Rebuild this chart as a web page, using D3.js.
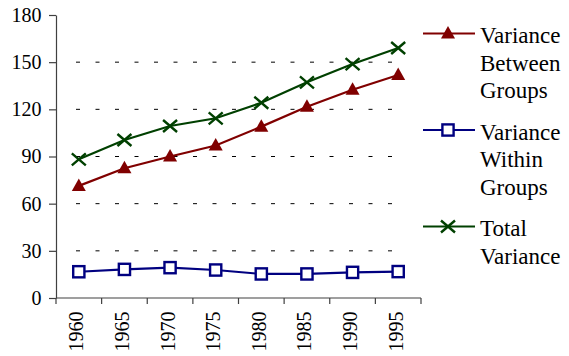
<!DOCTYPE html>
<html>
<head>
<meta charset="utf-8">
<script src="https://cdn.jsdelivr.net/npm/d3@7"></script>
<style>
  html, body { margin: 0; padding: 0; background: #fff; }
  svg { display: block; }
  text { font-family: "Liberation Serif", Tinos, "Times New Roman", Times, "Nimbus Roman", "DejaVu Serif", serif; fill: #000; }
</style>
</head>
<body>
<svg id="chart" width="569" height="356"></svg>
<script>
// Variance decomposition by year
const years = ["1960", "1965", "1970", "1975", "1980", "1985", "1990", "1995"];
const betweenGroups = [71.3, 82.5, 90.0, 97.0, 109.0, 121.7, 132.5, 141.8];
const withinGroups = [16.7, 18.2, 19.3, 17.8, 15.3, 15.3, 16.3, 16.8];
const totalVariance = [88.2, 100.5, 109.4, 114.3, 124.2, 137.2, 148.8, 159.0];
const yTicks = [0, 30, 60, 90, 120, 150, 180];
const seriesNames = [
  ["Variance", "Between", "Groups"],
  ["Variance", "Within", "Groups"],
  ["Total", "Variance"]
];

const series = [
  { lines: seriesNames[0], values: betweenGroups, color: "#800000", marker: "triangle" },
  { lines: seriesNames[1], values: withinGroups, color: "#000080", marker: "square" },
  { lines: seriesNames[2], values: totalVariance, color: "#004000", marker: "cross" }
];

const FONT = '"Liberation Serif", Tinos, "Times New Roman", Times, "Nimbus Roman", "DejaVu Serif", serif';
const svg = d3.select("#chart");
const plotLeft = 56, plotRight = 421, plotTop = 15, plotBottom = 298;

const x = d3.scaleBand().domain(years).range([plotLeft, plotRight]).padding(0);
const y = d3.scaleLinear().domain([0, 180]).range([plotBottom, plotTop]);
const cx = d => x(d) + x.bandwidth() / 2;

// Dashed horizontal gridlines
svg.append("g")
  .selectAll("line")
  .data(yTicks.filter(t => t > 0 && t < 180))
  .join("line")
  .attr("x1", 76).attr("x2", 395)
  .attr("y1", d => y(d)).attr("y2", d => y(d))
  .attr("stroke", "#000")
  .attr("stroke-width", 1)
  .attr("stroke-dasharray", "4 15.5");

// Y axis
const yAxis = svg.append("g")
  .attr("transform", `translate(${plotLeft},0)`)
  .call(d3.axisLeft(y).tickValues(yTicks).tickSize(7).tickPadding(7.5).tickSizeOuter(0))
  .attr("font-family", FONT);
yAxis.select(".domain").attr("stroke", "#404040").attr("stroke-width", 1.2);
yAxis.selectAll(".tick line").attr("stroke", "#404040").attr("stroke-width", 1.2);
yAxis.selectAll(".tick text")
  .style("font-family", FONT)
  .style("font-size", "20px")
  .attr("fill", "#000");

// X axis: tick marks on band boundaries, rotated year labels
const xAxis = svg.append("g").attr("transform", `translate(0,${plotBottom})`);
xAxis.append("line")
  .attr("x1", plotLeft).attr("x2", plotRight)
  .attr("stroke", "#404040").attr("stroke-width", 1.2);
const bounds = years.map(d => x(d)).concat([plotRight]);
xAxis.selectAll("line.tk")
  .data(bounds)
  .join("line")
  .attr("class", "tk")
  .attr("x1", d => d).attr("x2", d => d)
  .attr("y1", 0).attr("y2", 6)
  .attr("stroke", "#404040").attr("stroke-width", 1.2);
xAxis.selectAll("text")
  .data(years)
  .join("text")
  .attr("transform", d => `translate(${cx(d) + 4.5},13.5) rotate(-90)`)
  .attr("text-anchor", "end")
  .style("font-family", FONT)
  .style("font-size", "20px")
  .text(d => d);

// Marker shapes
function drawMarker(g, type, color) {
  if (type === "triangle") {
    g.append("path")
      .attr("d", "M0,-7.5 L7,5 L-7,5 Z")
      .attr("fill", color);
  } else if (type === "square") {
    g.append("rect")
      .attr("x", -5.6).attr("y", -5.6)
      .attr("width", 11.2).attr("height", 11.2)
      .attr("fill", "#fff")
      .attr("stroke", color).attr("stroke-width", 2.4);
  } else {
    g.append("path")
      .attr("d", "M-7,-6 L7,6 M-7,6 L7,-6")
      .attr("fill", "none")
      .attr("stroke", color).attr("stroke-width", 2.4);
  }
}

const line = d3.line().x((d, i) => cx(years[i])).y(d => y(d));

// Series lines and markers
series.forEach(s => {
  const g = svg.append("g");
  g.append("path")
    .attr("d", line(s.values))
    .attr("fill", "none")
    .attr("stroke", s.color)
    .attr("stroke-width", 2.2);
  s.values.forEach((v, i) => {
    const m = g.append("g").attr("transform", `translate(${cx(years[i])},${y(v)})`);
    drawMarker(m, s.marker, s.color);
  });
});

// Legend
const legendY = [33.5, 130, 226.5];
series.forEach((s, k) => {
  const g = svg.append("g").attr("transform", `translate(0,${legendY[k]})`);
  g.append("line")
    .attr("x1", 423).attr("x2", 475)
    .attr("stroke", s.color).attr("stroke-width", 2.2);
  const m = g.append("g").attr("transform", "translate(448,0)");
  drawMarker(m, s.marker, s.color);
  const t = g.append("text").attr("x", 480).attr("y", 9.5)
    .style("font-family", FONT)
    .style("font-size", "23px");
  s.lines.forEach((ln, j) => {
    t.append("tspan").attr("x", 480).attr("dy", j === 0 ? 0 : 27.5).text(ln);
  });
});
</script>
</body>
</html>
